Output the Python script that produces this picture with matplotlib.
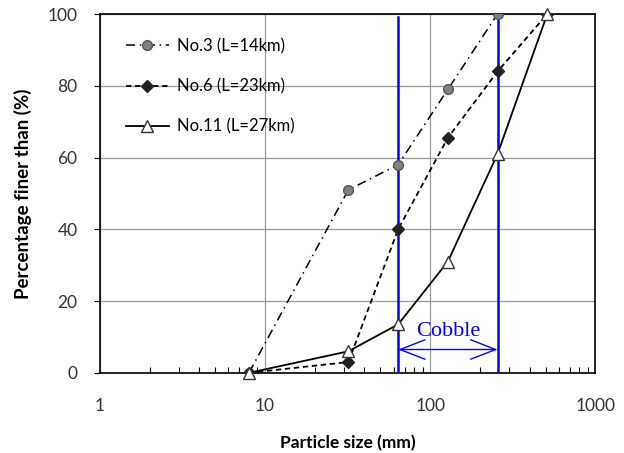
import matplotlib
matplotlib.use('Agg')
import matplotlib.pyplot as plt
import matplotlib.ticker as ticker

# grain size distribution data
size_no3 = [8, 32, 64, 128, 256]
pct_no3 = [0, 51, 58, 79, 100]

size_no6 = [8, 32, 64, 128, 256, 512]
pct_no6 = [0, 3, 40, 65.5, 84, 100]

size_no11 = [8, 32, 64, 128, 256, 512]
pct_no11 = [0, 6, 13.5, 31, 61, 100]

cobble_limits = [64, 256]

plt.rcParams['font.family'] = ['Lato', 'DejaVu Sans']

fig = plt.figure(figsize=(6.24, 4.53), dpi=100)
ax = fig.add_axes([0.160, 0.177, 0.794, 0.792])

ax.set_xscale('log')
ax.set_xlim(1, 1000)
ax.set_ylim(0, 100)
ax.set_yticks([0, 20, 40, 60, 80, 100])

ax.grid(True, which='major', color='#999999', linewidth=0.9)
ax.set_axisbelow(True)

# cobble range
for x in cobble_limits:
    ax.plot([x, x], [0, 99.3], color='#0000ff', linewidth=1.8, zorder=3)

ax.annotate('', xy=(cobble_limits[0], 6.5), xytext=(cobble_limits[1], 6.5),
            arrowprops=dict(arrowstyle='<->,head_length=0.9,head_width=0.35',
                            color='#0000ff', lw=1.0,
                            mutation_scale=20, shrinkA=0, shrinkB=0), zorder=3)
ax.text(128, 11.5, 'Cobble', color='#0000ff', fontsize=16, family='Liberation Serif',
        ha='center', va='center', zorder=3)

ax.plot(size_no3, pct_no3, linestyle=(0, (6, 3, 1, 3)), color='black', linewidth=1.1,
        marker='o', markersize=7, markerfacecolor='#808080', markeredgecolor='#555555',
        label='No.3 (L=14km)', zorder=4)
ax.plot(size_no6, pct_no6, linestyle=(0, (3, 2)), color='black', linewidth=1.3,
        marker='D', markersize=6, markerfacecolor='#222222', markeredgecolor='#222222',
        label='No.6 (L=23km)', zorder=4)
ax.plot(size_no11, pct_no11, linestyle='-', color='black', linewidth=1.3,
        marker='^', markersize=8.5, markerfacecolor='white', markeredgecolor='#333333',
        label='No.11 (L=27km)', zorder=5, clip_on=False)

ax.xaxis.set_major_formatter(ticker.ScalarFormatter())
ax.xaxis.set_minor_locator(ticker.LogLocator(base=10, subs=range(2, 10)))
ax.xaxis.set_minor_formatter(ticker.NullFormatter())
ax.tick_params(axis='x', which='major', length=0, pad=18, labelsize=12.5, colors='#333333')
ax.tick_params(axis='x', which='minor', direction='in', length=4, width=0.8)
ax.tick_params(axis='y', which='major', direction='out', length=4, pad=12, labelsize=12.5,
               labelcolor='#333333')

for s in ax.spines.values():
    s.set_color('black')
    s.set_linewidth(1.2)

ax.set_xlabel('Particle size (mm)', fontsize=12.5, fontweight='bold', labelpad=15)
ax.set_ylabel('Percentage finer than (%)', fontsize=13.5, fontweight='bold', labelpad=11)

leg = ax.legend(loc='upper left', bbox_to_anchor=(0.022, 0.975), frameon=False,
                fontsize=12, handlelength=2.6, handletextpad=0.5,
                labelspacing=1.45, borderaxespad=0.5)

plt.savefig('out.png', dpi=100)
